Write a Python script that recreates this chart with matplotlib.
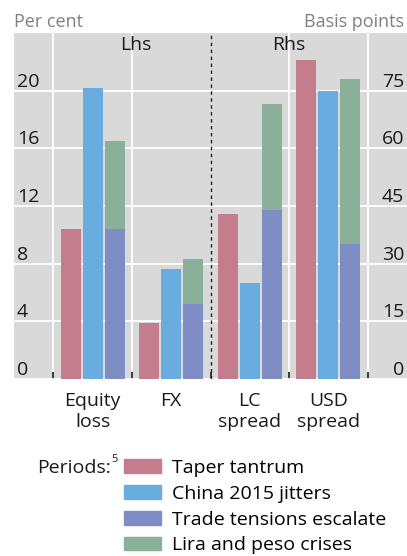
import matplotlib
matplotlib.use('Agg')
import matplotlib.pyplot as plt
import matplotlib.transforms as mtrans
from matplotlib.patches import Patch
import numpy as np

plt.rcParams['font.family'] = ['Open Sans', 'DejaVu Sans']

# ---- data ----
categories = ["Equity\nloss", "FX", "LC\nspread", "USD\nspread"]
series_names = ["Taper tantrum", "China 2015 jitters", "Trade tensions escalate", "Lira and peso crises"]
# first two categories in per cent (lhs), last two in basis points (rhs)
taper = [10.4, 3.9, 43.0, 83.0]
china = [20.2, 7.6, 25.0, 75.0]
trade = [10.4, 5.2, 44.0, 35.0]
lira = [16.5, 8.3, 71.5, 78.0]
lhs_ticks = [0, 4, 8, 12, 16, 20]
rhs_ticks = [0, 15, 30, 45, 60, 75]
lhs_max = 24
rhs_max = 90

colors = {"taper": "#c47d8d", "china": "#69ace0", "trade": "#7f8dc5", "lira": "#8ab09a"}
bg = "#d9d9d9"
FS = 14

fig = plt.figure(figsize=(4.07, 5.56), dpi=100)
ax = fig.add_axes([14/407, 1 - 379/556, 393/407, 346/556])
ax.set_facecolor(bg)
for s in ax.spines.values():
    s.set_visible(False)
ax.set_xlim(0, len(categories) + 1)
ax.set_ylim(0, lhs_max)
ax.set_axisbelow(True)

ax2 = ax.twinx()
ax2.set_ylim(0, rhs_max)
for s in ax2.spines.values():
    s.set_visible(False)
ax2.set_yticks([])

centers = np.arange(1, len(categories) + 1)
bounds = np.arange(len(categories) + 1) + 0.5
w = 0.255
off = 0.28

# grid
ax.set_yticks(lhs_ticks)
ax.tick_params(axis='y', length=0, labelleft=False)
ax.yaxis.grid(True, color='white', lw=1.3)
mid = bounds[len(bounds) // 2]
for b in bounds:
    if b != mid:
        ax.axvline(b, color='white', lw=1.3, zorder=0.5)
ax.axvline(mid, color='#222222', lw=1.0, ls=(0, (2.5, 2.5)), zorder=5)

# bars
for i, c in enumerate(centers):
    a = ax if i < 2 else ax2
    a.bar(c - off, taper[i], width=w, color=colors["taper"], zorder=2)
    a.bar(c, china[i], width=w, color=colors["china"], zorder=2)
    a.bar(c + off, lira[i], width=w, color=colors["lira"], zorder=2)
    a.bar(c + off, trade[i], width=w, color=colors["trade"], zorder=3)

# x ticks
ax.set_xticks(centers)
ax.set_xticklabels(categories, fontsize=FS, color='#1a1a1a', linespacing=1.25)
ax.tick_params(axis='x', which='major', length=0, pad=9)
ax.set_xticks(bounds, minor=True)
ax.tick_params(axis='x', which='minor', direction='in', length=5, width=1.2, color='#1a1a1a')

# y tick labels inside the plot
tl = mtrans.blended_transform_factory(ax.transAxes, ax.transData)
for v in lhs_ticks:
    ax.text(0, v, str(v), transform=tl + mtrans.ScaledTranslation(3/100, 0, fig.dpi_scale_trans),
            ha='left', va='bottom', fontsize=FS, color='#1a1a1a', zorder=6)
tr = mtrans.blended_transform_factory(ax2.transAxes, ax2.transData)
for v in rhs_ticks:
    ax2.text(1, v, str(v), transform=tr + mtrans.ScaledTranslation(-3/100, 0, fig.dpi_scale_trans),
             ha='right', va='bottom', fontsize=FS, color='#1a1a1a', zorder=6)

ax.text(1.55, 0.99 * lhs_max, "Lhs", ha='center', va='top', fontsize=FS, color='#1a1a1a')
ax.text(3.5, 0.99 * lhs_max, "Rhs", ha='center', va='top', fontsize=FS, color='#1a1a1a')

fig.text(14/407, 1 - 22/556, "Per cent", ha='left', va='center', fontsize=13, color='#808080')
fig.text(404/407, 1 - 22/556, "Basis points", ha='right', va='center', fontsize=13, color='#808080')

# legend
handles = [Patch(color=colors[k]) for k in ["taper", "china", "trade", "lira"]]
fig.legend(handles, series_names, loc='upper left', bbox_to_anchor=(124/407, 1 - 459/556),
           frameon=False, fontsize=FS, handlelength=1.9, handleheight=0.7,
           handletextpad=0.55, labelspacing=0.4, borderpad=0, borderaxespad=0)
fig.text(37/407, 1 - 468/556, "Periods:", ha='left', va='center', fontsize=FS, color='#1a1a1a')
fig.text(111/407, 1 - 460/556, "5", ha='left', va='center', fontsize=8, color='#1a1a1a')

fig.savefig("out.png", dpi=100)
